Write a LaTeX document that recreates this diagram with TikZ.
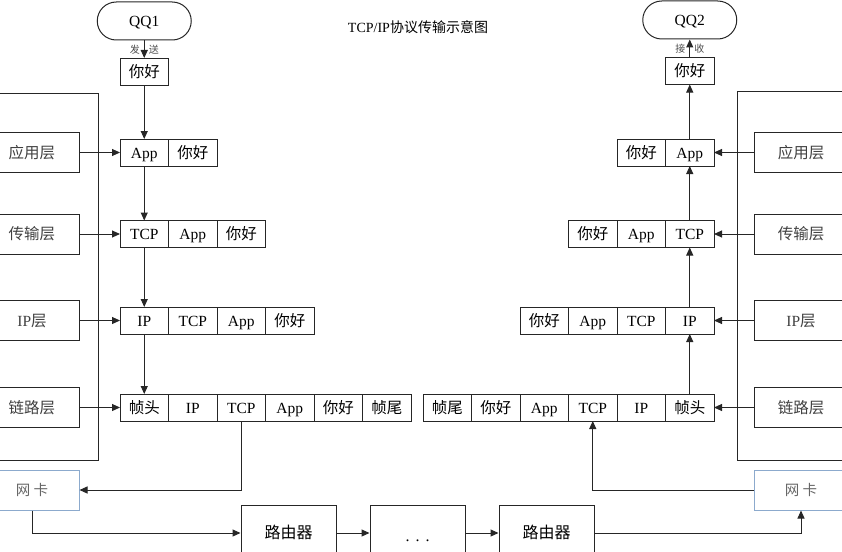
\documentclass[tikz,border=0pt]{standalone}
\usepackage{fontspec}
\setmainfont{Liberation Serif}
\newfontfamily\cjk{Noto Sans CJK SC}
\usetikzlibrary{positioning,arrows.meta}
\newcommand{\zh}[1]{{\cjk #1}}
\definecolor{nicblue}{RGB}{140,170,205}

\tikzset{
  cell/.style={draw, minimum width=48.5pt, minimum height=27pt, inner sep=0pt, outer sep=0pt, text height=12.5pt, text depth=1pt, font=\fontsize{15.5}{17}\selectfont},
  layer/.style={draw, minimum width=94pt, minimum height=40pt, inner sep=0pt, text height=12.5pt, text depth=1pt, text=black!75, font=\fontsize{15.5}{17}\selectfont},
  nic/.style={layer, draw=nicblue, text=black!60, font=\fontsize{14.5}{16}\selectfont},
  host/.style={draw, rounded corners=19pt, minimum width=94pt, minimum height=38pt, text height=12.5pt, text depth=1pt, font=\fontsize{15.5}{17}\selectfont},
  router/.style={draw, minimum width=95pt, minimum height=56pt, inner sep=0pt, text height=12.5pt, text depth=1pt, font=\fontsize{16}{18}\selectfont},
  arr/.style={-{Triangle[length=8pt,width=7pt]}},
  lbl/.style={font=\fontsize{10}{11}\selectfont, text=black!70, inner sep=4pt},
}

\begin{document}
\begin{tikzpicture}[x=1pt, y=-1pt, line width=1pt, draw=black!85]
      \useasboundingbox (0,0) rectangle (842,551);
      % Title
      \node[font=\fontsize{14}{16}\selectfont] (title) at (418,27) {TCP/IP\zh{协议传输示意图}};

      % Sender side
      \node[host] (qq1) at (144.25,21) {QQ1};
      \node[cell] (sh) at (144.25,71.5) {\zh{你好}};
      \node[cell] (sa1) at (144.25,152.5) {App};
      \node[cell, right=0pt of sa1] (sa2) {\zh{你好}};
      \node[cell] (st1) at (144.25,234) {TCP};
      \node[cell, right=0pt of st1] (st2) {App};
      \node[cell, right=0pt of st2] (st3) {\zh{你好}};
      \node[cell] (si1) at (144.25,320.5) {IP};
      \node[cell, right=0pt of si1] (si2) {TCP};
      \node[cell, right=0pt of si2] (si3) {App};
      \node[cell, right=0pt of si3] (si4) {\zh{你好}};
      \node[cell] (sf1) at (144.25,407.5) {\zh{帧头}};
      \node[cell, right=0pt of sf1] (sf2) {IP};
      \node[cell, right=0pt of sf2] (sf3) {TCP};
      \node[cell, right=0pt of sf3] (sf4) {App};
      \node[cell, right=0pt of sf4] (sf5) {\zh{你好}};
      \node[cell, right=0pt of sf5] (sf6) {\zh{帧尾}};

      % Sender layers
      \draw (-5,93) -- (98,93) -- (98,460) -- (-5,460);
      \node[layer] (sl1) at (32,152.5) {\zh{应用层}};
      \node[layer] (sl2) at (32,234) {\zh{传输层}};
      \node[layer] (sl3) at (32,320.5) {IP\zh{层}};
      \node[layer] (sl4) at (32,407.5) {\zh{链路层}};
      \node[nic] (nicL) at (32,490) {\zh{网\ 卡}};

      % Receiver side
      \node[host] (qq2) at (689.75,20) {QQ2};
      \node[cell] (rh) at (689.75,71) {\zh{你好}};
      \node[cell] (ra2) at (689.75,152.5) {App};
      \node[cell, left=0pt of ra2] (ra1) {\zh{你好}};
      \node[cell] (rt3) at (689.75,234) {TCP};
      \node[cell, left=0pt of rt3] (rt2) {App};
      \node[cell, left=0pt of rt2] (rt1) {\zh{你好}};
      \node[cell] (ri4) at (689.75,320.5) {IP};
      \node[cell, left=0pt of ri4] (ri3) {TCP};
      \node[cell, left=0pt of ri3] (ri2) {App};
      \node[cell, left=0pt of ri2] (ri1) {\zh{你好}};
      \node[cell] (rf6) at (689.75,407.5) {\zh{帧头}};
      \node[cell, left=0pt of rf6] (rf5) {IP};
      \node[cell, left=0pt of rf5] (rf4) {TCP};
      \node[cell, left=0pt of rf4] (rf3) {App};
      \node[cell, left=0pt of rf3] (rf2) {\zh{你好}};
      \node[cell, left=0pt of rf2] (rf1) {\zh{帧尾}};

      % Receiver layers
      \draw (847,91) -- (737,91) -- (737,460) -- (847,460);
      \node[layer] (rl1) at (801,152.5) {\zh{应用层}};
      \node[layer] (rl2) at (801,234) {\zh{传输层}};
      \node[layer] (rl3) at (801,320.5) {IP\zh{层}};
      \node[layer] (rl4) at (801,407.5) {\zh{链路层}};
      \node[nic] (nicR) at (801,490) {\zh{网\ 卡}};

      % Routers
      \node[router] (gw1) at (288.5,533) {\zh{路由器}};
      \node[router] (gw2) at (417.5,533) {\raisebox{-3pt}{.\hspace{6pt}.\hspace{6pt}.}};
      \node[router] (gw3) at (546.5,533) {\zh{路由器}};

      % Sender arrows
      \draw[arr] (qq1) -- node[lbl, left]{\zh{发}} node[lbl, right]{\zh{送}} (sh);
      \draw[arr] (sh) -- (sa1);
      \draw[arr] (sa1) -- (st1);
      \draw[arr] (st1) -- (si1);
      \draw[arr] (si1) -- (sf1);
      \draw[arr] (sl1) -- (sa1);
      \draw[arr] (sl2) -- (st1);
      \draw[arr] (sl3) -- (si1);
      \draw[arr] (sl4) -- (sf1);
      \draw[arr] (sf3.south) |- (nicL.east);
      \draw[arr] (nicL.south) |- (gw1.west);

      % Routing
      \draw[arr] (gw1) -- (gw2);
      \draw[arr] (gw2) -- (gw3);
      \draw[arr] (gw3.east) -| (nicR.south);

      % Receiver arrows
      \draw[arr] (nicR.west) -| (rf4.south);
      \draw[arr] (rf6) -- (ri4);
      \draw[arr] (ri4) -- (rt3);
      \draw[arr] (rt3) -- (ra2);
      \draw[arr] (ra2) -- (rh);
      \draw[arr] (rh) -- node[lbl, left]{\zh{接}} node[lbl, right]{\zh{收}} (qq2);
      \draw[arr] (rl1) -- (ra2);
      \draw[arr] (rl2) -- (rt3);
      \draw[arr] (rl3) -- (ri4);
      \draw[arr] (rl4) -- (rf6);
\end{tikzpicture}
\end{document}
